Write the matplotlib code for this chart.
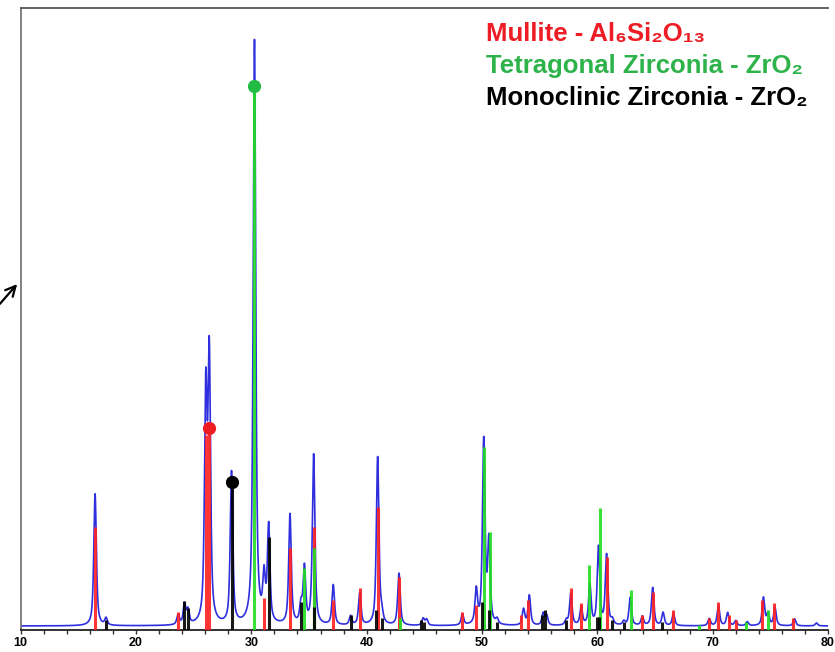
import matplotlib
matplotlib.use('Agg')
import matplotlib.pyplot as plt
import numpy as np
from matplotlib.ticker import MultipleLocator

plt.rcParams['font.family'] = ['Liberation Sans', 'DejaVu Sans']

# measured pattern: peak positions (2theta) and heights above background
peak_pos = [16.45, 17.4, 23.65, 24.2, 24.5, 26.05, 26.35, 28.28, 30.27, 31.1,
            31.5, 33.35, 34.3, 34.6, 35.4, 37.1, 38.6, 39.4, 40.95, 41.3,
            42.8, 44.9, 45.2, 48.3, 49.5, 50.15, 50.6, 51.3, 53.6, 54.1,
            55.3, 55.6, 57.3, 57.7, 58.6, 59.35, 60.1, 60.8, 61.3, 62.3,
            62.85, 63.9, 64.8, 65.7, 66.6, 69.7, 70.5, 71.3, 72.0, 73.0,
            74.4, 74.8, 75.4, 77.1, 79.0]
peak_int = [132, 7, 10, 20, 14, 226, 262, 152, 584, 44,
            96, 110, 18, 56, 170, 40, 9, 32, 168, 9,
            52, 7, 6, 11, 34, 184, 82, 5, 16, 30,
            12, 10, 5, 32, 18, 40, 78, 70, 5, 4,
            28, 9, 38, 13, 12, 7, 20, 13, 5, 4,
            28, 12, 18, 7, 3]
background = 4

# reference sticks
mullite_pos = [16.45, 23.65, 26.05, 26.35, 31.1, 33.35, 35.4, 37.1, 39.4, 40.95,
               42.8, 48.3, 49.5, 53.4, 54.0, 57.7, 58.6, 60.8, 63.9, 64.8,
               66.6, 69.7, 70.5, 71.4, 72.0, 74.3, 75.3, 77.0]
mullite_int = [103, 18, 195, 202, 32, 82, 103, 30, 42, 123,
               53, 18, 25, 15, 30, 42, 27, 73, 15, 38,
               20, 12, 28, 15, 10, 30, 27, 12]
tetra_pos = [30.27, 34.55, 35.4, 42.9, 50.15, 50.65, 59.3, 60.2, 62.9, 68.8, 72.9, 74.8]
tetra_int = [544, 62, 82, 12, 183, 98, 65, 122, 40, 5, 8, 20]
mono_pos = [17.4, 24.2, 24.5, 28.28, 31.5, 34.3, 35.45, 38.6, 40.8, 41.3,
            44.7, 45.0, 50.0, 50.6, 51.3, 55.2, 55.5, 57.3, 59.95, 60.15,
            61.3, 62.3, 65.6]
mono_int = [10, 29, 22, 148, 93, 28, 23, 15, 20, 12,
            10, 8, 28, 20, 8, 15, 20, 10, 13, 13,
            10, 8, 8]

# highlighted peaks
marker_pos = [26.35, 28.28, 30.27]
marker_int = [202, 148, 544]
marker_col = ['#f01c24', 'black', '#22bb44']

x = np.arange(10, 80.2, 0.01)
y = np.full_like(x, float(background))
fwhm = 0.26
for p, h in zip(peak_pos, peak_int):
    d = (x - p) / (fwhm / 2)
    y += h * (0.7 / (1 + d ** 2) + 0.3 * np.exp(-np.log(2) * d ** 2))

fig = plt.figure(figsize=(8.35, 6.52), dpi=100)
ax = fig.add_axes([20.7 / 835, 22 / 652, (828 - 20.7) / 835, (630 - 8) / 652])

ax.plot(x, y, color='#0a0ad8', lw=1.2, alpha=0.85, zorder=2)
ax.vlines(mullite_pos, 0, mullite_int, color='#ff2020', lw=2.2, alpha=0.9, zorder=3)
ax.vlines(tetra_pos, 0, tetra_int, color='#22dd22', lw=2.2, alpha=0.9, zorder=3)
ax.vlines(mono_pos, 0, mono_int, color='black', lw=2.2, alpha=0.9, zorder=3)
for p, h, c in zip(marker_pos, marker_int, marker_col):
    ax.plot(p, h, 'o', color=c, ms=8.5, zorder=4)

ax.set_xlim(10, 80)
ax.set_ylim(0, 622)
ax.xaxis.set_major_locator(MultipleLocator(10))
ax.xaxis.set_minor_locator(MultipleLocator(2))
ax.tick_params(axis='x', which='both', direction='out', length=3, width=1,
               color='#333333', labelsize=9, pad=2)
for lab in ax.get_xticklabels():
    lab.set_fontweight('bold')
ax.set_yticks([])
ax.spines['right'].set_visible(False)
ax.spines['left'].set_color('#777777')
ax.spines['top'].set_color('#555555')
ax.spines['bottom'].set_color('#222222')
for s in ax.spines.values():
    s.set_linewidth(1.3)

legend_lines = [('Mullite - Al₆Si₂O₁₃', '#ee1c24'),
                ('Tetragonal Zirconia - ZrO₂', '#2db34a'),
                ('Monoclinic Zirconia - ZrO₂', 'black')]
for i, (t, c) in enumerate(legend_lines):
    fig.text(486 / 835, (652 - 34 - i * 32) / 652, t, color=c, fontsize=18.5,
             fontweight='bold', ha='left', va='center')

ax.annotate('', xy=(19, 652 - 282), xycoords='figure pixels',
            xytext=(-2, 652 - 306), textcoords='figure pixels',
            arrowprops=dict(arrowstyle='->', lw=1.6, color='black',
                            mutation_scale=18))

fig.savefig('out.png', dpi=100)
